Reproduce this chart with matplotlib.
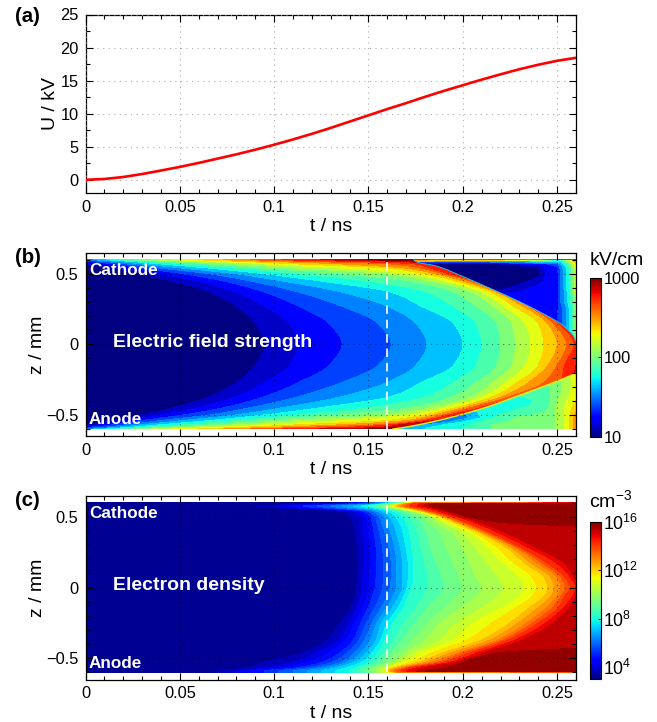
import numpy as np
import matplotlib
matplotlib.use("Agg")
import matplotlib.pyplot as plt
from matplotlib.colors import Normalize, LogNorm
from matplotlib.cm import ScalarMappable
from matplotlib.patches import Polygon
from matplotlib.ticker import MultipleLocator, FixedLocator, FixedFormatter

plt.rcParams['font.family'] = ['Liberation Sans', 'DejaVu Sans']
plt.rcParams['mathtext.fontset'] = 'custom'
plt.rcParams['mathtext.rm'] = 'Liberation Sans'
plt.rcParams['mathtext.default'] = 'regular'

# ---- panel (a): voltage
voltage_t = [0, .01, .02, .03, .04, .05, .06, .07, .08, .09, .10, .11, .12, .13, .14, .15, .16, .17, .18, .19,
             .20, .21, .22, .23, .24, .25, .26]
voltage_kv = [0, .12, .42, .87, 1.4, 1.95, 2.55, 3.2, 3.85, 4.55, 5.3, 6.1, 6.95, 7.85, 8.8, 9.75, 10.7, 11.6,
              12.55, 13.45, 14.3, 15.15, 15.95, 16.72, 17.4, 18.0, 18.45]

# ---- panel (b): time at which the field reaches colour band 1..16 (16 bands per two decades), per height z
field_z = [.6, .59, .57, .54, .5, .45, .37, .27, .15, 0, -.15, -.27, -.37, -.45, -.5, -.54, -.57, -.59, -.6]
field_bands = list(range(1, 17))
field_cross_t = [
    [-.03, -.025, -.015, -.005, .004, .011, .018, .026, .035, .046, .059, .073, .087, .104, .124, .149],
    [-.02, -.01, 0, .008, .015, .022, .03, .04, .052, .066, .08, .095, .113, .136, .162, .181],
    [0, .008, .015, .022, .03, .04, .052, .066, .08, .095, .113, .136, .162, .175, .185, .195],
    [.015, .022, .03, .04, .052, .066, .08, .095, .113, .136, .16, .17, .178, .183, .19, .2],
    [.03, .04, .052, .066, .08, .095, .113, .136, .16, .171, .18, .186, .19, .193, .2, .21],
    [.046, .059, .073, .087, .104, .124, .149, .171, .183, .19, .196, .2, .204, .207, .215, .225],
    [.066, .08, .095, .113, .136, .162, .181, .195, .205, .21, .215, .218, .22, .222, .23, .24],
    [.08, .095, .113, .136, .16, .178, .195, .207, .216, .222, .227, .232, .235, .238, .245, .255],
    [.09, .108, .129, .155, .175, .195, .207, .218, .226, .233, .24, .245, .248, .251, .258, .265],
    [.095, .113, .136, .162, .181, .2, .21, .22, .228, .236, .243, .25, .255, .259, .265, .27],
    [.09, .108, .129, .155, .175, .195, .207, .218, .226, .233, .24, .245, .25, .254, .26, .27],
    [.08, .095, .113, .136, .16, .178, .195, .207, .216, .223, .229, .235, .243, .252, .258, .265],
    [.066, .08, .095, .113, .136, .162, .181, .195, .205, .211, .216, .221, .225, .229, .235, .245],
    [.046, .059, .073, .087, .104, .124, .149, .171, .183, .19, .196, .2, .204, .209, .215, .225],
    [.03, .04, .052, .066, .08, .095, .113, .136, .16, .171, .18, .185, .19, .193, .2, .21],
    [.015, .022, .03, .04, .052, .066, .08, .095, .113, .136, .16, .17, .176, .18, .185, .195],
    [0, .008, .015, .022, .03, .04, .052, .066, .08, .095, .113, .136, .155, .162, .167, .18],
    [-.02, -.01, 0, .008, .015, .022, .03, .04, .052, .066, .08, .095, .113, .136, .155, .165],
    [-.03, -.025, -.015, -.005, .004, .011, .018, .026, .035, .046, .059, .073, .087, .104, .124, .149],
]
# front edge (upper half) and the screened region behind it
front_z = [.6, .582, .559, .481, .418, .312, .218, .135, .053, .02]
front_t = [.174, .176, .185, .2, .211, .2286, .2426, .253, .259, .26]
wake_t = [.174, .19, .2, .21, .22, .23, .24, .245, .25, .252, .255, .258, .26]
wake_z = [.6, .595, .585, .57, .55, .5, .45, .4, .35, .3, .25, .2, .15, .1, .02]
wake_band = [
    [14.5, 14.5, 14.5, 14.5, 14, 13, 11, 9, 7, 7, 9, 11, 12],
    [8, 7, 6, 6, 6, 6, 7, 7, 7, 7, 9, 11, 12],
    [4, 4, 4, 4, 4.5, 5, 5.5, 5.5, 5.5, 6, 8, 10, 12],
    [2, .5, .5, .5, 1, 2, 3, 3, 3.5, 5, 7, 9, 11],
    [.5, .5, .5, .5, .5, .5, 1, 2.5, 3, 4.5, 6, 8.5, 10.5],
    [.5, .5, .5, .5, .5, .5, .5, 2.4, 2.6, 4, 6, 8, 10],
    [.5, .5, .5, .5, .5, .5, 1.5, 2.4, 2.6, 4, 6, 8, 10],
    [.5, .5, .5, .5, .5, 1.5, 2.4, 2.4, 2.6, 4, 6, 8, 10],
    [2.4, 2.4, 2.4, 2.4, 2.4, 2.4, 2.4, 2.4, 2.6, 4, 5.5, 7.5, 9.5],
    [2.4, 2.4, 2.4, 2.4, 2.4, 2.4, 2.4, 2.4, 2.6, 4, 5.5, 7.5, 9.5],
    [2.4, 2.4, 2.4, 2.4, 2.4, 2.4, 2.4, 2.4, 2.8, 3.5, 5, 7, 9],
    [2.4, 2.4, 2.4, 2.4, 2.4, 2.4, 2.4, 2.4, 3, 3.5, 5, 7, 9],
    [3, 3, 3, 3, 3, 3, 3, 3, 3, 3.5, 5, 7, 9],
    [3, 3, 3, 3, 3, 3, 3, 3, 3, 3.5, 5, 7, 9],
    [3, 3, 3, 3, 3, 3, 3, 3, 3, 3.5, 5, 7, 9],
]
# lower ridge edge and the region below it
ridge_z = [-.6, -.593, -.546, -.452, -.369, -.2635, -.205]
ridge_t = [.163, .167, .185, .211, .2286, .2496, .26]
under_t = [.16, .18, .19, .2, .21, .22, .23, .24, .245, .25, .255, .26]
under_z = [-.6, -.595, -.57, -.55, -.52, -.48, -.44, -.4, -.35, -.3, -.25, -.2]
under_band = [
    [4, 4, 4, 4, 4, 4, 4, 4, 4, 4, 4, 4],
    [5, 6, 6.5, 7, 7.5, 8.5, 8.5, 8.5, 8.5, 9.1, 10.2, 12.5],
    [5, 5, 6, 6.5, 7.5, 8.5, 8.5, 8.5, 8.5, 9.1, 10.2, 12.5],
    [5, 4.5, 4.5, 6, 7.2, 7.7, 8.5, 8.5, 8.5, 9.1, 10.2, 12.5],
    [6, 6, 4.5, 4.5, 6, 7.5, 8.2, 8.5, 8.5, 9.1, 10.2, 12.5],
    [7, 7, 6, 5, 6.3, 6.8, 7.3, 7.6, 8.2, 9.1, 10.2, 12],
    [7, 7, 7, 6.5, 6.3, 6.5, 6.8, 7.2, 7.8, 9.1, 10.2, 11.5],
    [7, 7, 7, 7, 7, 6.5, 6.5, 7.2, 7.6, 8.9, 10, 11],
    [7, 7, 7, 7, 7, 7, 7.2, 7.4, 7.8, 8.6, 9.6, 10.8],
    [7, 7, 7, 7, 7, 7, 7.3, 7.6, 7.9, 8.5, 9.4, 10.5],
    [8, 8, 8, 8, 8, 8, 8, 8, 8.2, 8.7, 9.5, 10.5],
    [8, 8, 8, 8, 8, 8, 8, 8, 8.3, 9, 9.7, 10.5],
]

# ---- panel (c): time at which log10(density) reaches each listed value, per height z
density_z = [.6, .59, .575, .56, .54, .5, .46, .38, .275, .17, .075, 0, -.065, -.136, -.25, -.37, -.46, -.53, -.57, -.59, -.6]
density_logs = [3.5, 4, 5, 6, 7, 8, 9, 10, 11, 12, 13, 14, 14.5, 15, 15.5]
density_cross_t = [
    [.14, .145, .15, .155, .16, .164, .168, .17, .172, .175, .176, .27, .28, .3, .32],
    [.12, .13, .14, .15, .156, .159, .162, .164, .166, .168, .17, .173, .177, .181, .185],
    [.09, .1, .115, .13, .142, .15, .155, .16, .162, .165, .168, .172, .176, .179, .182],
    [.105, .115, .128, .14, .15, .157, .161, .165, .168, .171, .174, .178, .182, .185, .188],
    [.135, .14, .147, .152, .157, .163, .168, .172, .176, .178, .181, .184, .187, .19, .193],
    [.14, .146, .151, .156, .161, .168, .175, .182, .186, .189, .191, .194, .197, .2, .203],
    [.142, .147, .152, .157, .163, .17, .178, .186, .192, .196, .199, .202, .206, .209, .22],
    [.143, .147, .153, .159, .165, .172, .181, .195, .205, .21, .213, .216, .22, .224, .35],
    [.144, .148, .154, .161, .167, .173, .183, .2, .214, .224, .229, .232, .236, .24, .35],
    [.144, .148, .154, .162, .168, .174, .186, .204, .222, .233, .24, .245, .25, .254, .35],
    [.144, .147, .154, .162, .168, .174, .189, .207, .23, .243, .25, .254, .257, .259, .35],
    [.1438, .147, .1535, .1615, .168, .173, .19, .21, .233, .245, .252, .257, .26, .262, .35],
    [.143, .146, .152, .16, .166, .171, .187, .207, .23, .243, .25, .254, .258, .26, .35],
    [.141, .144, .15, .157, .163, .169, .182, .2, .222, .236, .245, .251, .254, .257, .35],
    [.135, .14, .146, .152, .157, .163, .175, .188, .206, .225, .234, .24, .244, .248, .35],
    [.128, .134, .142, .148, .154, .159, .168, .18, .195, .21, .219, .224, .228, .232, .35],
    [.115, .123, .135, .143, .149, .155, .162, .17, .178, .19, .198, .204, .208, .212, .22],
    [.095, .11, .125, .135, .142, .15, .156, .163, .168, .176, .183, .189, .193, .196, .2],
    [.085, .095, .11, .122, .132, .143, .15, .156, .16, .163, .167, .171, .175, .18, .19],
    [.07, .08, .095, .11, .125, .14, .148, .154, .158, .16, .163, .167, .17, .175, .18],
    [.07, .08, .095, .11, .125, .14, .15, .156, .16, .165, .166, .35, .36, .37, .38],
]

# ---- labels
t_ticks = [0, .05, .1, .15, .2, .25]
t_labels = ['0', '0.05', '0.1', '0.15', '0.2', '0.25']
z_ticks = [-.5, 0, .5]
z_labels = ['\u22120.5', '0', '0.5']
u_ticks = [0, 5, 10, 15, 20, 25]
marker_t = 0.16

W, H = 657, 722
fig = plt.figure(figsize=(W / 100, H / 100), dpi=100)


def px_axes(l, t, r, b):
    return fig.add_axes([l / W, 1 - b / H, (r - l) / W, (b - t) / H])


def pchip(x, y, xi):
    """Monotone cubic drawing curve through read points (x ascending)."""
    x, y = np.asarray(x, float), np.asarray(y, float)
    h = np.diff(x)
    d = np.diff(y) / h
    m = np.zeros_like(y)
    m[0], m[-1] = d[0], d[-1]
    for i in range(1, len(x) - 1):
        if d[i - 1] * d[i] > 0:
            w1, w2 = 2 * h[i] + h[i - 1], h[i] + 2 * h[i - 1]
            m[i] = (w1 + w2) / (w1 / d[i - 1] + w2 / d[i])
    k = np.clip(np.searchsorted(x, xi) - 1, 0, len(h) - 1)
    s = (xi - x[k]) / h[k]
    return ((2 * s**3 - 3 * s**2 + 1) * y[k] + (s**3 - 2 * s**2 + s) * h[k] * m[k]
            + (-2 * s**3 + 3 * s**2) * y[k + 1] + (s**3 - s**2) * h[k] * m[k + 1])


def level_sheet(z_rows, table, levels, low, high):
    """Mesh whose columns are the read iso-lines t(z), drawn as smooth curves."""
    z_up = np.array(z_rows)[::-1]
    tab = np.array(table)[::-1]
    zf = np.linspace(z_up[0], z_up[-1], 361)
    lines = np.column_stack([pchip(z_up, tab[:, j], zf) for j in range(tab.shape[1])])
    lines = np.sort(lines, axis=1)
    X = np.column_stack([np.full_like(zf, -.4), lines, np.full_like(zf, .6)])
    Y = np.tile(zf[:, None], (1, X.shape[1]))
    Z = np.tile(np.array([low] + list(levels) + [high])[None, :], (len(zf), 1))
    return X, Y, Z


def edge_curve(zs, ts):
    order = np.argsort(zs)
    zf = np.linspace(min(zs), max(zs), 200)
    return pchip(np.array(zs)[order], np.array(ts)[order], zf), zf


def style(ax, ylab, zgrid, ylab_x):
    ax.set_xlim(0, .26)
    ax.set_xticks(t_ticks, t_labels)
    ax.xaxis.set_minor_locator(MultipleLocator(.01))
    ax.tick_params(which='major', direction='in', top=True, right=True, length=5, width=.8, labelsize=11.8, pad=5)
    ax.tick_params(which='minor', direction='in', top=True, right=True, length=3, width=.8)
    ax.set_axisbelow(False)
    ax.grid(True, which='major', color=zgrid[0], alpha=zgrid[1], linestyle=(0, (1, 4)), linewidth=.8)
    for s in ax.spines.values():
        s.set_linewidth(.9)
    ax.set_xlabel('t / ns', fontsize=14, labelpad=2.2)
    ax.set_ylabel(ylab, fontsize=14)
    ax.yaxis.set_label_coords((ylab_x - 85.5) / 490.5, .5)


# (a)
axa = px_axes(85.5, 14.5, 576, 193)
axa.plot(voltage_t, voltage_kv, color='#ff0000', lw=1.9, zorder=4)
axa.set_ylim(-2, 25)
axa.set_yticks(u_ticks)
axa.yaxis.set_minor_locator(MultipleLocator(2.5))
style(axa, 'U / kV', ('#999999', .8), 59)

jet = plt.get_cmap('jet')

# (b)
axb = px_axes(85.5, 252.7, 576, 436)
band_levels = np.arange(0, 18)
field_norm = Normalize(.5, 16.5)
X, Y, Z = level_sheet(field_z, field_cross_t, field_bands, .5, 16.9)
axb.contourf(X, Y, Z, levels=band_levels, cmap=jet, norm=field_norm, zorder=1)

ft, fz = edge_curve(front_z, front_t)
poly_up = Polygon(list(zip(ft, fz)) + [(.27, .6), (.27, .02)], closed=True, transform=axb.transData)
wake = axb.contourf(wake_t, wake_z, np.array(wake_band), levels=band_levels, cmap=jet, norm=field_norm, zorder=1.5)
wake.set_clip_path(poly_up)
axb.plot(ft, fz, color='#20d0f0', lw=.6, zorder=1.6)

rt, rz = edge_curve(ridge_z, ridge_t)
poly_low = Polygon(list(zip(rt, rz)) + [(.26, -.6)], closed=True, transform=axb.transData)
under = axb.contourf(under_t, under_z, np.array(under_band), levels=band_levels, cmap=jet, norm=field_norm, zorder=1.5)
under.set_clip_path(poly_low)
axb.plot(rt, rz, color='#e8f020', lw=1.0, zorder=1.6)

axb.set_ylim(-.65, .65)
axb.set_yticks(z_ticks, z_labels)
axb.yaxis.set_minor_locator(MultipleLocator(.1))
style(axb, 'z / mm', ('#000000', .5), 46)
axb.plot([marker_t, marker_t], [-.6, .6], color='white', lw=1.4, ls=(0, (4.4, 3)), zorder=3, alpha=.85)

# (c)
axc = px_axes(85.5, 495.5, 576, 679.5)
X, Y, Z = level_sheet(density_z, density_cross_t, density_logs, 3.1, 15.9)
axc.contourf(X, Y, Z, levels=np.arange(3, 16.5, .5), cmap=jet, norm=Normalize(3, 16), zorder=1)
axc.set_ylim(-.65, .65)
axc.set_yticks(z_ticks, z_labels)
axc.yaxis.set_minor_locator(MultipleLocator(.1))
style(axc, 'z / mm', ('#000000', .5), 46)
axc.plot([marker_t, marker_t], [-.6, .6], color='white', lw=1.4, ls=(0, (4.4, 3)), zorder=3, alpha=.85)

# white annotations
for ax, title in ((axb, 'Electric field strength'), (axc, 'Electron density')):
    ax.text(.0147, .015, title, color='white', weight='bold', fontsize=14, va='center', zorder=5)
    ax.text(.0018, .525, 'Cathode', color='white', weight='bold', fontsize=12.3, va='center', zorder=5)
    ax.text(.0018, -.535, 'Anode', color='white', weight='bold', fontsize=12.3, va='center', zorder=5)

# colour bars
caxb = px_axes(590, 277.7, 600.7, 436.7)
cb = fig.colorbar(ScalarMappable(LogNorm(10, 1000), jet), cax=caxb)
cb.ax.yaxis.set_major_locator(FixedLocator([10, 100, 1000]))
cb.ax.yaxis.set_major_formatter(FixedFormatter(['10', '100', '1000']))
caxc = px_axes(589.5, 521.5, 600.5, 679.3)
cc = fig.colorbar(ScalarMappable(LogNorm(1e3, 1e16), jet), cax=caxc)
cc.ax.yaxis.set_major_locator(FixedLocator([1e4, 1e8, 1e12, 1e16]))
cc.ax.yaxis.set_major_formatter(FixedFormatter(['$10^{4}$', '$10^{8}$', '$10^{12}$', '$10^{16}$']))
for c, fs in ((cb, 11.8), (cc, 12.8)):
    c.ax.minorticks_off()
    c.ax.tick_params(which='major', direction='in', length=2.5, width=.7, labelsize=fs, pad=2)
    c.outline.set_linewidth(.8)

fig.text(590 / W, 1 - 265 / H, 'kV/cm', fontsize=14, va='baseline')
fig.text(589 / W, 1 - 507 / H, 'cm$^{-3}$', fontsize=14, va='baseline')

for lab, y in (('(a)', 22), ('(b)', 263), ('(c)', 506)):
    fig.text(15 / W, 1 - y / H, lab, fontsize=14.7, weight='bold', va='baseline')

fig.savefig('out.png', dpi=100)
